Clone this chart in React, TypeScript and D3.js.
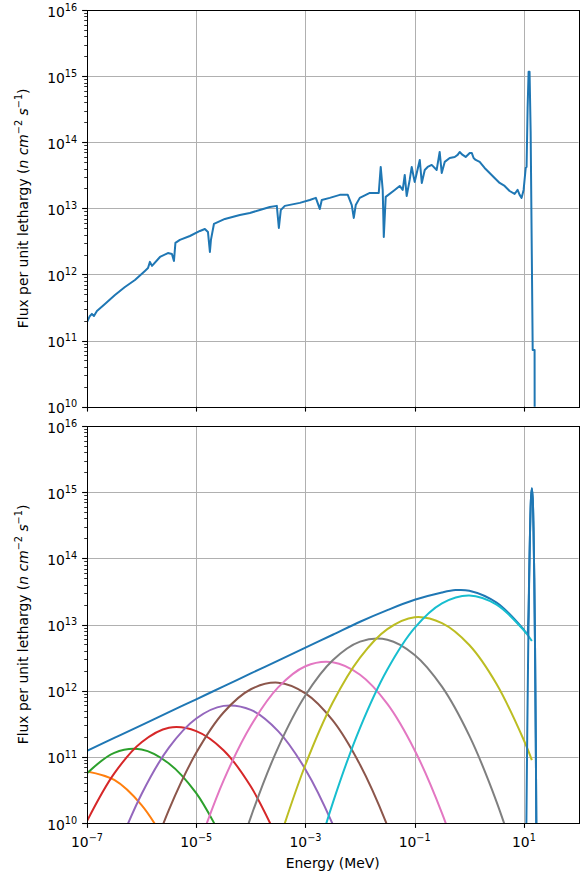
import { useEffect, useRef } from 'react';
import * as d3 from 'd3';

// ---- axis ticks ----
const xMajor = [1e-7, 1e-5, 1e-3, 1e-1, 1e1];
const yMajor = [1e10, 1e11, 1e12, 1e13, 1e14, 1e15, 1e16];

// ---- top panel: measured spectrum (MeV, n cm^-2 s^-1) ----
const measuredEnergy = [
  1.00e-7, 1.13e-7, 1.23e-7, 1.34e-7, 1.52e-7, 2.13e-7, 3.25e-7, 4.95e-7, 7.55e-7, 1.15e-6,
  1.31e-6, 1.42e-6, 1.55e-6, 2.17e-6, 3.03e-6, 3.59e-6, 3.91e-6, 4.16e-6, 5.02e-6, 7.66e-6,
  1.17e-5, 1.44e-5, 1.64e-5, 1.78e-5, 1.86e-5, 2.11e-5, 3.35e-5, 6.29e-5, 9.60e-5, 1.46e-4,
  2.23e-4, 2.99e-4, 3.26e-4, 3.54e-4, 4.19e-4, 7.89e-4, 1.20e-3, 1.55e-3, 1.83e-3, 1.99e-3,
  2.79e-3, 4.26e-3, 5.96e-3, 7.05e-3, 7.67e-3, 8.34e-3, 9.88e-3, 1.51e-2, 2.20e-2, 2.39e-2,
  2.60e-2, 2.72e-2, 2.95e-2, 4.31e-2, 5.32e-2, 6.04e-2, 6.58e-2, 7.14e-2, 8.11e-2, 8.83e-2,
  0.100, 0.124, 0.135, 0.153, 0.173, 0.205, 0.253, 0.287, 0.313, 0.355,
  0.438, 0.541, 0.612, 0.667, 0.757, 0.859, 1.02, 1.11, 1.20, 1.31,
  1.55, 1.91, 2.36, 2.91, 3.60, 4.44, 5.48, 6.76, 7.67, 8.36,
  9.08, 9.88, 10.8, 11.2, 11.7, 12.2, 12.7, 13.3, 14.5, 15.7,
  15.8,
];
const measuredFlux = [
  1.91e11, 2.36e11, 2.53e11, 2.36e11, 2.80e11, 3.58e11, 4.90e11, 6.47e11, 8.26e11, 1.13e12,
  1.25e12, 1.55e12, 1.35e12, 1.84e12, 2.11e12, 2.04e12, 1.60e12, 3.00e12, 3.33e12, 3.82e12,
  4.55e12, 4.88e12, 4.40e12, 2.19e12, 3.33e12, 5.81e12, 6.91e12, 7.94e12, 8.51e12, 9.46e12,
  1.05e13, 1.09e13, 5.05e12, 9.46e12, 1.09e13, 1.21e13, 1.34e13, 1.44e13, 9.79e12, 1.34e13,
  1.44e13, 1.60e13, 1.60e13, 1.12e13, 7.16e12, 1.12e13, 1.44e13, 1.71e13, 1.71e13, 4.23e13,
  1.90e13, 3.69e12, 1.49e13, 1.90e13, 2.18e13, 1.90e13, 3.20e13, 1.54e13, 2.69e13, 4.23e13,
  2.51e13, 5.40e13, 2.42e13, 3.81e13, 4.23e13, 4.54e13, 3.81e13, 7.13e13, 3.43e13, 5.04e13,
  5.78e13, 5.99e13, 6.43e13, 7.13e13, 6.43e13, 5.99e13, 6.89e13, 6.89e13, 5.78e13, 5.40e13,
  5.04e13, 4.08e13, 3.43e13, 2.88e13, 2.42e13, 2.18e13, 1.83e13, 1.65e13, 1.90e13, 1.60e13,
  1.44e13, 1.90e13, 4.08e13, 4.23e13, 3.30e14, 1.16e15, 1.16e15, 1.43e14, 7.21e10, 7.21e10,
  1e9,
];

// ---- bottom panel: fitted groups on a half-decade grid ----
const groupEnergy = [
  1e-7, 3.16e-7, 1e-6, 3.16e-6, 1e-5, 3.16e-5, 1e-4, 3.16e-4, 1e-3,
  3.16e-3, 0.01, 0.0316, 0.1, 0.316, 1, 3.16, 10, 14,
];
const n = null;
const group1Flux = [6.03e10, 4.47e10, 1.86e10, 4.27e9, n, n, n, n, n, n, n, n, n, n, n, n, n, n];
const group2Flux = [5.62e10, 1.15e11, 1.29e11, 7.94e10, 2.82e10, 5.37e9, n, n, n, n, n, n, n, n, n, n, n, n];
const group3Flux = [1.07e10, 5.62e10, 1.66e11, 2.75e11, 2.45e11, 1.26e11, 3.55e10, 5.50e9, n, n, n, n, n, n, n, n, n, n];
const group4Flux = [n, 3.09e9, 2.75e10, 1.38e11, 3.80e11, 5.89e11, 5.13e11, 2.45e11, 6.46e10, 9.55e9, 7.76e8, n, n, n, n, n, n, n];
const group5Flux = [n, n, 1.20e9, 1.58e10, 1.15e11, 4.68e11, 1.05e12, 1.32e12, 9.12e11, 3.55e11, 7.59e10, 9.12e9, 6.03e8, n, n, n, n, n];
const group6Flux = [n, n, n, n, 3.55e9, 4.37e10, 2.95e11, 1.12e12, 2.34e12, 2.69e12, 1.74e12, 6.31e11, 1.26e11, 1.41e10, 8.71e8, n, n, n];
const group7Flux = [n, n, n, n, n, 6.17e8, 1.23e10, 1.38e11, 8.51e11, 2.88e12, 5.50e12, 5.89e12, 3.47e12, 1.15e12, 2.09e11, 2.09e10, 1.17e9, n];
const group8Flux = [n, n, n, n, n, n, n, 4.90e9, 7.59e10, 6.61e11, 3.16e12, 8.51e12, 1.29e13, 1.05e13, 4.90e12, 1.26e12, 1.78e11, 8.91e10];
const group9Flux = [n, n, n, n, n, n, n, n, 8.13e8, 2.00e10, 2.75e11, 2.09e12, 8.91e12, 2.09e13, 2.75e13, 2.00e13, 8.13e12, 5.62e12];
const groupFluxes = [group1Flux, group2Flux, group3Flux, group4Flux, group5Flux, group6Flux, group7Flux, group8Flux, group9Flux];

// 14 MeV fusion peak
const peakEnergy = [11, 11.5, 12, 12.5, 13, 13.5, 14, 14.5, 15, 15.5, 16, 16.5, 17];
const peakFlux = [4.27e9, 1.95e11, 4.47e12, 5.01e13, 2.88e14, 8.13e14, 1.15e15, 8.13e14, 2.88e14, 5.01e13, 4.47e12, 1.95e11, 4.27e9];

// total of all groups
const totalEnergy = [
  1e-7, 3.16e-7, 1e-6, 3.16e-6, 1e-5, 3.16e-5, 1e-4, 3.16e-4, 1e-3, 3.16e-3,
  0.01, 0.0316, 0.1, 0.316, 0.562, 1, 3.16, 10, 11, 11.5,
  12, 12.5, 13, 13.5, 14, 14.5, 15, 15.5, 16, 16.5, 17,
];
const totalFlux = [
  1.23e11, 1.93e11, 3.02e11, 4.73e11, 7.41e11, 1.16e12, 1.82e12, 2.85e12, 4.47e12, 7.00e12,
  1.10e13, 1.65e13, 2.36e13, 3.05e13, 3.31e13, 3.24e13, 2.14e13, 8.32e12, 7.48e12, 7.31e12,
  1.12e13, 5.62e13, 2.95e14, 8.13e14, 1.15e15, 8.13e14, 2.88e14, 5.01e13, 4.47e12, 1.95e11, 4.27e9,
];

const colors = ['#1f77b4', '#ff7f0e', '#2ca02c', '#d62728', '#9467bd', '#8c564b', '#e377c2', '#7f7f7f', '#bcbd22', '#17becf'];

export default function App() {
  const svgRef = useRef<SVGSVGElement | null>(null);

  useEffect(() => {
    if (!svgRef.current) return;
    const svg = d3.select(svgRef.current);
    svg.selectAll('*').remove();

    const font = '"DejaVu Sans", sans-serif';
    const fs = 13.9;
    const supSize = 9.7;
    const supShift = 5.8;
    const x = d3.scaleLog().domain([1e-7, 1e2]).range([87, 578.5]);
    const [x0, x1] = x.range();

    const panels = [
      { top: 10, bottom: 406.7, xLabels: false },
      { top: 426, bottom: 823, xLabels: true },
    ];

    const expText = (v: number) => {
      const e = Math.round(Math.log10(v));
      return e < 0 ? '\u2212' + (-e) : String(e);
    };

    panels.forEach((p, i) => {
      const y = d3.scaleLog().domain([1e10, 1e16]).range([p.bottom, p.top]);
      const g = svg.append('g');
      const clipId = 'plot-clip-' + i;
      g.append('clipPath').attr('id', clipId).append('rect')
        .attr('x', x0).attr('y', p.top)
        .attr('width', x1 - x0).attr('height', p.bottom - p.top);

      // grid
      const grid = g.append('g').attr('stroke', '#b0b0b0').attr('stroke-width', 1);
      grid.selectAll('line.gx').data(xMajor).join('line').attr('class', 'gx')
        .attr('x1', d => Math.round(x(d)) + 0.5).attr('x2', d => Math.round(x(d)) + 0.5)
        .attr('y1', p.top).attr('y2', p.bottom);
      grid.selectAll('line.gy').data(yMajor).join('line').attr('class', 'gy')
        .attr('x1', x0).attr('x2', x1)
        .attr('y1', d => Math.round(y(d)) + 0.5).attr('y2', d => Math.round(y(d)) + 0.5);

      // data
      const plot = g.append('g').attr('clip-path', `url(#${clipId})`)
        .attr('fill', 'none').attr('stroke-width', 2).attr('stroke-linejoin', 'round');

      if (i === 0) {
        const pts = measuredEnergy.map((e, k) => [e, measuredFlux[k]] as [number, number]);
        const line = d3.line<[number, number]>().x(d => x(d[0])).y(d => y(d[1]));
        plot.append('path').attr('d', line(pts)).attr('stroke', colors[0]);
      } else {
        const smooth = d3.line<[number, number | null]>()
          .defined(d => d[1] != null)
          .x(d => x(d[0])).y(d => y(d[1] as number))
          .curve(d3.curveCatmullRom.alpha(0.5));
        const totalPts = totalEnergy.map((e, k) => [e, totalFlux[k]] as [number, number]);
        plot.append('path').attr('d', smooth(totalPts)).attr('stroke', colors[0]);
        groupFluxes.forEach((fl, k) => {
          const pts = groupEnergy.map((e, j) => [e, fl[j]] as [number, number | null]);
          plot.append('path').attr('d', smooth(pts)).attr('stroke', colors[(k + 1) % 10]);
        });
        const peakPts = peakEnergy.map((e, k) => [e, peakFlux[k]] as [number, number]);
        plot.append('path').attr('d', smooth(peakPts)).attr('stroke', colors[0]);
      }

      // frame
      g.append('rect')
        .attr('x', Math.round(x0) + 0.5).attr('y', Math.round(p.top) + 0.5)
        .attr('width', Math.round(x1) - Math.round(x0)).attr('height', Math.round(p.bottom) - Math.round(p.top))
        .attr('fill', 'none').attr('stroke', '#000').attr('stroke-width', 1);

      // ticks
      const ticks = g.append('g').attr('stroke', '#000');
      const yMinor: number[] = [];
      for (let k = 10; k < 16; k++) for (let m = 2; m <= 9; m++) yMinor.push(m * Math.pow(10, k));
      ticks.selectAll('line.ymaj').data(yMajor).join('line').attr('class', 'ymaj')
        .attr('x1', x0 - 4.9).attr('x2', x0)
        .attr('y1', d => Math.round(y(d)) + 0.5).attr('y2', d => Math.round(y(d)) + 0.5)
        .attr('stroke-width', 1.1);
      ticks.selectAll('line.ymin').data(yMinor).join('line').attr('class', 'ymin')
        .attr('x1', x0 - 2.8).attr('x2', x0)
        .attr('y1', d => Math.round(y(d)) + 0.5).attr('y2', d => Math.round(y(d)) + 0.5)
        .attr('stroke-width', 0.8);
      ticks.selectAll('line.xmaj').data(xMajor).join('line').attr('class', 'xmaj')
        .attr('x1', d => Math.round(x(d)) + 0.5).attr('x2', d => Math.round(x(d)) + 0.5)
        .attr('y1', p.bottom).attr('y2', p.bottom + 4.9)
        .attr('stroke-width', 1.1);

      // y tick labels
      yMajor.forEach(v => {
        const t = g.append('text')
          .attr('x', x0 - 9.8).attr('y', y(v) + 6.5)
          .attr('text-anchor', 'end').attr('font-family', font).attr('font-size', fs).attr('fill', '#000');
        t.append('tspan').text('10');
        t.append('tspan').attr('dy', -supShift).attr('font-size', supSize).text(expText(v));
      });

      // x tick labels
      if (p.xLabels) {
        xMajor.forEach(v => {
          const t = g.append('text')
            .attr('x', x(v)).attr('y', 847)
            .attr('text-anchor', 'middle').attr('font-family', font).attr('font-size', fs).attr('fill', '#000');
          t.append('tspan').text('10');
          t.append('tspan').attr('dy', -supShift).attr('font-size', supSize).text(expText(v));
        });
        g.append('text')
          .attr('x', (x0 + x1) / 2).attr('y', 868)
          .attr('text-anchor', 'middle').attr('font-family', font).attr('font-size', fs).attr('fill', '#000')
          .text('Energy (MeV)');
      }

      // y axis label
      const yl = g.append('text')
        .attr('transform', `translate(28,${(p.top + p.bottom) / 2}) rotate(-90)`)
        .attr('text-anchor', 'middle').attr('font-family', font).attr('font-size', fs).attr('fill', '#000');
      yl.append('tspan').text('Flux per unit lethargy (');
      yl.append('tspan').attr('font-style', 'italic').text('n cm');
      yl.append('tspan').attr('dy', -supShift).attr('font-size', supSize).text('\u22122');
      yl.append('tspan').attr('dy', supShift).attr('font-style', 'italic').text(' s');
      yl.append('tspan').attr('dy', -supShift).attr('font-size', supSize).text('\u22121');
      yl.append('tspan').attr('dy', supShift).text(')');
    });
  }, []);

  return (
    <div style={{ position: 'absolute', left: 0, top: 0, width: 580, height: 880, background: '#fff' }}>
      <svg ref={svgRef} width={580} height={880}></svg>
    </div>
  );
}
